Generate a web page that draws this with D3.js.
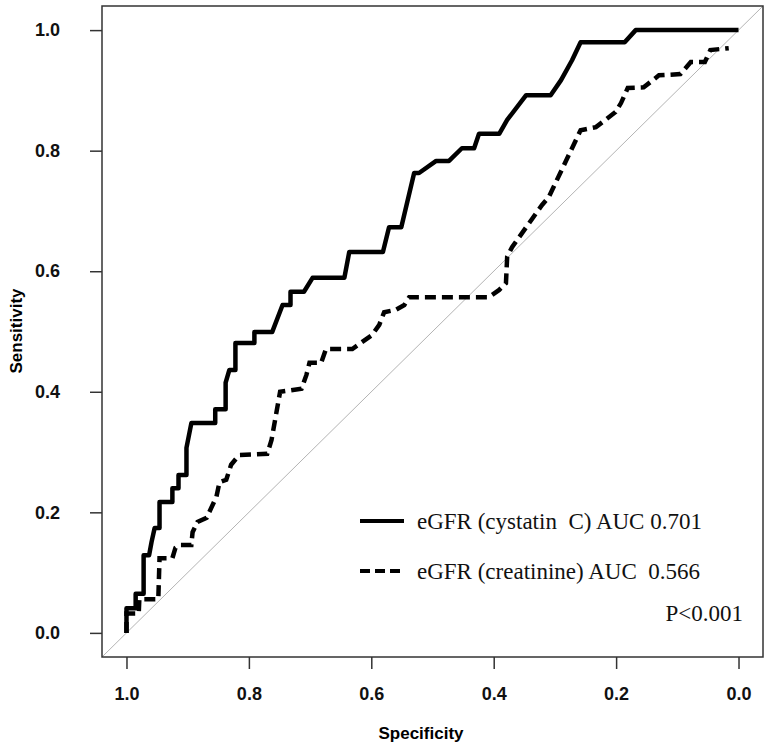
<!DOCTYPE html>
<html>
<head>
<meta charset="utf-8">
<script src="https://cdn.jsdelivr.net/npm/d3@7"></script>
<style>
  body { margin: 0; background: #fff; }
  text { white-space: pre; }
</style>
</head>
<body>
<div id="chart"></div>
<script>
// ROC points (specificity, sensitivity)
var cysSpec = [1.0, 1.0, 0.985, 0.985, 0.972, 0.972, 0.963, 0.959, 0.954, 0.946, 0.946, 0.925, 0.925, 0.915, 0.915, 0.902, 0.902, 0.894, 0.855, 0.855, 0.838, 0.838, 0.832, 0.822, 0.822, 0.791, 0.791, 0.762, 0.745, 0.732, 0.732, 0.710, 0.696, 0.644, 0.636, 0.581, 0.571, 0.551, 0.530, 0.522, 0.494, 0.473, 0.452, 0.432, 0.424, 0.391, 0.378, 0.347, 0.307, 0.290, 0.272, 0.258, 0.186, 0.168, 0.0];
var cysSens = [0.0, 0.041, 0.041, 0.065, 0.065, 0.129, 0.129, 0.151, 0.174, 0.174, 0.217, 0.217, 0.240, 0.240, 0.262, 0.262, 0.307, 0.348, 0.348, 0.371, 0.371, 0.415, 0.436, 0.436, 0.481, 0.481, 0.499, 0.499, 0.544, 0.544, 0.566, 0.566, 0.589, 0.589, 0.632, 0.632, 0.673, 0.673, 0.763, 0.763, 0.783, 0.783, 0.804, 0.804, 0.828, 0.828, 0.851, 0.892, 0.892, 0.917, 0.950, 0.980, 0.980, 1.0, 1.0];

var creSpec = [1.0, 1.0, 0.980, 0.979, 0.948, 0.946, 0.925, 0.920, 0.913, 0.894, 0.892, 0.884, 0.869, 0.853, 0.848, 0.837, 0.829, 0.816, 0.770, 0.763, 0.749, 0.714, 0.706, 0.701, 0.682, 0.674, 0.631, 0.599, 0.587, 0.579, 0.560, 0.546, 0.538, 0.408, 0.391, 0.380, 0.378, 0.370, 0.321, 0.310, 0.258, 0.233, 0.201, 0.192, 0.181, 0.155, 0.130, 0.095, 0.078, 0.055, 0.046, 0.016];
var creSens = [0.0, 0.032, 0.032, 0.056, 0.056, 0.124, 0.124, 0.141, 0.146, 0.146, 0.167, 0.184, 0.191, 0.226, 0.250, 0.254, 0.279, 0.295, 0.297, 0.320, 0.400, 0.405, 0.428, 0.448, 0.448, 0.471, 0.471, 0.494, 0.511, 0.532, 0.536, 0.544, 0.557, 0.557, 0.569, 0.580, 0.624, 0.640, 0.710, 0.723, 0.834, 0.839, 0.864, 0.879, 0.904, 0.905, 0.925, 0.927, 0.947, 0.947, 0.967, 0.970];

var ticks = [1.0, 0.8, 0.6, 0.4, 0.2, 0.0];
var legendLabels = ['eGFR (cystatin  C) AUC 0.701', 'eGFR (creatinine) AUC  0.566'];
var pText = 'P<0.001';

var W = 770, H = 750;
var box = {left: 102, right: 763, top: 6, bottom: 657};

var svg = d3.select('#chart')
            .append('svg')
            .attr('width', W)
            .attr('height', H);

var x = d3.scaleLinear().domain([1.04, -0.04]).range([box.left, box.right]);
var y = d3.scaleLinear().domain([-0.04, 1.04]).range([box.bottom, box.top]);

svg.append('clipPath').attr('id', 'clip')
   .append('rect')
   .attr('x', box.left).attr('y', box.top)
   .attr('width', box.right - box.left).attr('height', box.bottom - box.top);

// reference diagonal
svg.append('line')
   .attr('clip-path', 'url(#clip)')
   .attr('x1', x(1.04)).attr('y1', y(-0.04))
   .attr('x2', x(-0.04)).attr('y2', y(1.04))
   .attr('stroke', '#b4b4b4')
   .attr('stroke-width', 1);

var line = d3.line()
             .x(d => x(d[0]))
             .y(d => y(d[1]));

svg.append('path')
   .datum(d3.zip(creSpec, creSens))
   .attr('d', line)
   .attr('fill', 'none')
   .attr('stroke', '#000')
   .attr('stroke-width', 4.5)
   .attr('stroke-dasharray', '11,6');

svg.append('path')
   .datum(d3.zip(cysSpec, cysSens))
   .attr('d', line)
   .attr('fill', 'none')
   .attr('stroke', '#000')
   .attr('stroke-width', 4.5)
   .attr('stroke-linejoin', 'round');

// plot box
svg.append('rect')
   .attr('x', box.left).attr('y', box.top)
   .attr('width', box.right - box.left).attr('height', box.bottom - box.top)
   .attr('fill', 'none')
   .attr('stroke', '#333')
   .attr('stroke-width', 1.5);

// axes
var xAxis = svg.append('g')
   .attr('transform', `translate(0, ${box.bottom})`)
   .call(d3.axisBottom(x).tickValues(ticks).tickFormat(d3.format('.1f')).tickSize(12).tickPadding(18));
var yAxis = svg.append('g')
   .attr('transform', `translate(${box.left}, 0)`)
   .call(d3.axisLeft(y).tickValues(ticks).tickFormat(d3.format('.1f')).tickSize(12).tickPadding(30));

[xAxis, yAxis].forEach(g => {
  g.select('.domain').remove();
  g.selectAll('.tick line').attr('stroke', '#333').attr('stroke-width', 1.5);
  g.selectAll('.tick text')
   .style('font-family', 'Arial, "Liberation Sans", sans-serif')
   .style('font-weight', 'bold')
   .style('font-size', '18px')
   .attr('fill', '#111');
});

// axis titles
svg.append('text')
   .attr('x', 421).attr('y', 739)
   .attr('text-anchor', 'middle')
   .style('font-family', 'Arial, "Liberation Sans", sans-serif')
   .style('font-weight', 'bold')
   .style('font-size', '17px')
   .text('Specificity');

svg.append('text')
   .attr('transform', 'translate(22, 331) rotate(-90)')
   .attr('text-anchor', 'middle')
   .style('font-family', 'Arial, "Liberation Sans", sans-serif')
   .style('font-weight', 'bold')
   .style('font-size', '17px')
   .text('Sensitivity');

// legend
var legend = svg.selectAll('.legendItem')
                .data(legendLabels)
                .enter()
                .append('g')
                .attr('class', 'legendItem')
                .attr('transform', (d, i) => `translate(360, ${521 + i * 50})`);

legend.append('line')
      .attr('x1', 0).attr('x2', 44)
      .attr('y1', 0).attr('y2', 0)
      .attr('stroke', '#000')
      .attr('stroke-width', 4)
      .attr('stroke-dasharray', (d, i) => i === 1 ? '10,5' : null);

legend.append('text')
      .attr('x', 57).attr('y', 8)
      .style('font-family', '"Times New Roman", "Liberation Serif", serif')
      .style('font-size', '23px')
      .attr('fill', '#111')
      .text(d => d);

svg.append('text')
   .attr('x', 743).attr('y', 621)
   .attr('text-anchor', 'end')
   .style('font-family', '"Times New Roman", "Liberation Serif", serif')
   .style('font-size', '23px')
   .attr('fill', '#111')
   .text(pText);
</script>
</body>
</html>
